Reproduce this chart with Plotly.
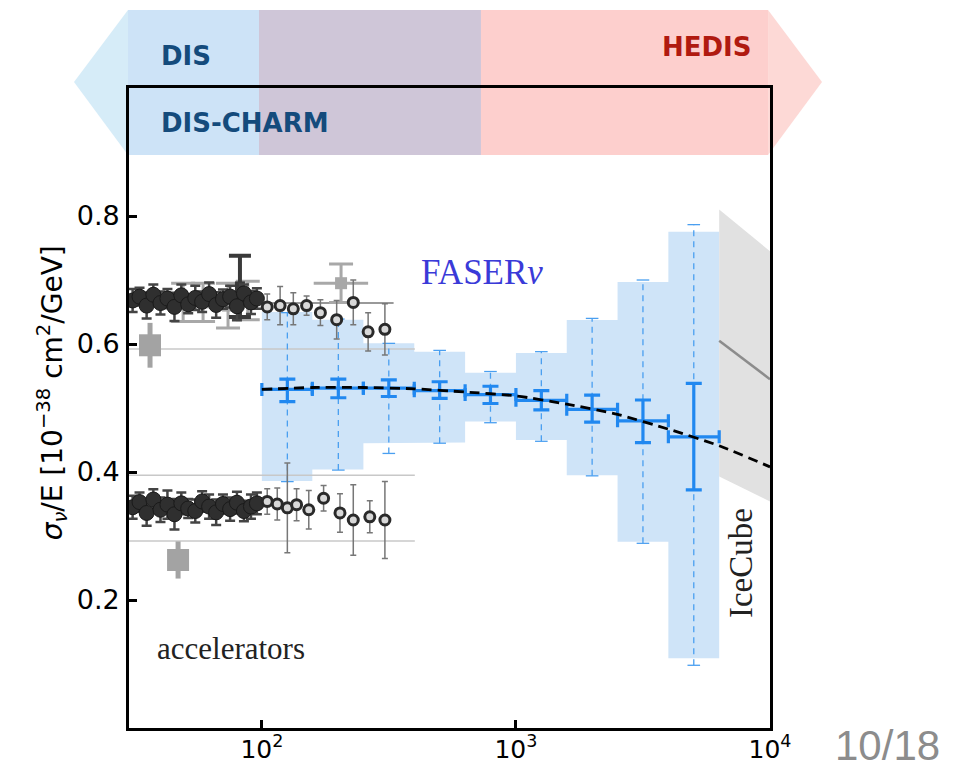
import math
import plotly.graph_objects as go

# ---------------- data ----------------
# FASERnu projected measurement (bins in E_nu [GeV])
bin_edges = [100, 158, 251, 398, 631, 1000, 1585, 2512, 3981, 6310]
bin_centers = [126, 200, 316, 501, 794, 1259, 1995, 3162, 5012]
faser_central = [0.529, 0.531, 0.531, 0.527, 0.521, 0.512, 0.498, 0.480, 0.455]
stat_hi = [0.545, 0.545, 0.544, 0.541, 0.534, 0.527, 0.520, 0.5125, 0.5385]
stat_lo = [0.510, 0.516, 0.518, 0.515, 0.507, 0.497, 0.478, 0.446, 0.372]
box_hi = [0.650, 0.638, 0.601, 0.588, 0.555, 0.586, 0.6375, 0.697, 0.7755]
box_lo = [0.386, 0.404, 0.445, 0.446, 0.479, 0.450, 0.395, 0.291, 0.109]
dash_hi = [0.649, 0.639, 0.601, 0.590, 0.557, 0.588, 0.640, 0.700, 0.7865]
dash_lo = [0.385, 0.403, 0.429, 0.445, 0.477, 0.448, 0.394, 0.2886, 0.098]

# theory prediction (dashed black)
theory_E = [100, 158, 251, 398, 631, 1000, 1585, 2512, 3981, 6310, 10000]
theory_val = [0.529, 0.532, 0.532, 0.530, 0.525, 0.519, 0.506, 0.490, 0.467, 0.441, 0.408]

# IceCube band
ice_E = [6310, 10000]
ice_top = [0.810, 0.745]
ice_bot = [0.393, 0.354]
ice_line = [0.605, 0.545]

# accelerator data: neutrinos (upper) and antineutrinos (lower)
acc_dense_E = [31.0, 33.0, 35.2, 37.4, 39.9, 42.5, 45.3, 48.2, 51.3, 54.7,
               58.2, 62.0, 66.1, 70.3, 75.0, 79.8, 85.0, 90.6, 95.6]
acc_nu_val = [0.668, 0.674, 0.660, 0.677, 0.664, 0.671, 0.658, 0.676, 0.662, 0.672,
              0.666, 0.678, 0.661, 0.670, 0.674, 0.659, 0.679, 0.665, 0.671]
acc_nu_err = [0.018, 0.014, 0.020, 0.016, 0.018, 0.015, 0.022, 0.017, 0.014, 0.019,
              0.016, 0.018, 0.020, 0.015, 0.017, 0.022, 0.014, 0.018, 0.016]
acc_nub_val = [0.345, 0.353, 0.336, 0.357, 0.341, 0.349, 0.334, 0.351, 0.343, 0.339,
               0.354, 0.346, 0.337, 0.350, 0.342, 0.352, 0.339, 0.346, 0.351]
acc_nub_err = [0.018, 0.015, 0.020, 0.016, 0.019, 0.022, 0.024, 0.017, 0.015, 0.018,
               0.016, 0.019, 0.020, 0.015, 0.018, 0.017, 0.016, 0.019, 0.017]

acc_nu_hi_E = [105, 118, 133, 150, 170, 197, 229, 262, 305]
acc_nu_hi_val = [0.658, 0.660, 0.655, 0.660, 0.649, 0.638, 0.665, 0.619, 0.623]
acc_nu_hi_err = [0.020, 0.030, 0.025, 0.015, 0.020, 0.030, 0.035, 0.030, 0.040]

acc_nub_hi_E = [105, 115, 126, 137, 153, 175, 203, 229, 266, 305]
acc_nub_hi_val = [0.354, 0.350, 0.344, 0.349, 0.341, 0.359, 0.336, 0.325, 0.330, 0.325]
acc_nub_hi_err = [0.020, 0.025, 0.070, 0.025, 0.030, 0.020, 0.030, 0.055, 0.025, 0.060]

acc_old_E = [49.0, 58.7, 73.6, 88.0, 205]
acc_old_val = [0.665, 0.665, 0.660, 0.668, 0.695]
acc_old_err = [0.030, 0.030, 0.035, 0.030, 0.030]
acc_old_xlo = [0, 0, 0, 0, 45]
acc_old_xhi = [0, 0, 0, 0, 57]

acc_box_E = [36.3, 46.8]
acc_box_val = [0.598, 0.2625]
acc_box_err = [0.035, 0.029]

acc_T_E = [82.0]
acc_T_val = [0.690]
acc_T_err = [0.048]

ref_lines_val = [0.592, 0.395, 0.292]
ref_lines_E = [30, 400]
fit_line_E = [100, 330]
fit_line_val = [0.664, 0.664]

# ---------------- figure ----------------
fig = go.Figure()

# FASERnu uncertainty boxes
bx, by = [], []
for i in range(len(bin_centers)):
    bx += [bin_edges[i], bin_edges[i + 1]]
    by += [box_hi[i], box_hi[i]]
for i in reversed(range(len(bin_centers))):
    bx += [bin_edges[i + 1], bin_edges[i]]
    by += [box_lo[i], box_lo[i]]
fig.add_trace(go.Scatter(x=bx, y=by, fill="toself", fillcolor="#cfe4f8",
                         line=dict(width=0), mode="lines", hoverinfo="skip"))

# IceCube band
fig.add_trace(go.Scatter(x=ice_E + ice_E[::-1], y=ice_top + ice_bot[::-1],
                         fill="toself", fillcolor="#e1e1e1", line=dict(width=0),
                         mode="lines", hoverinfo="skip"))
fig.add_trace(go.Scatter(x=ice_E, y=ice_line, mode="lines",
                         line=dict(color="#8c8c8c", width=2.5)))

# reference horizontal lines (accelerators)
for v in ref_lines_val:
    fig.add_trace(go.Scatter(x=ref_lines_E, y=[v, v], mode="lines",
                             line=dict(color="#c8c8c8", width=1.5)))
fig.add_trace(go.Scatter(x=fit_line_E, y=fit_line_val, mode="lines",
                         line=dict(color="#777777", width=1.5)))

# dashed (total) error bars
dx, dy = [], []
for c, lo, hi in zip(bin_centers, dash_lo, dash_hi):
    dx += [c, c, None]
    dy += [lo, hi, None]
fig.add_trace(go.Scatter(x=dx, y=dy, mode="lines",
                         line=dict(color="#4a9ff0", width=1.3, dash="6px,5px")))
fig.add_trace(go.Scatter(x=bin_centers + bin_centers, y=dash_hi + dash_lo, mode="markers",
                         marker=dict(symbol="line-ew", size=9,
                                     line=dict(color="#4a9ff0", width=1.3))))

# accelerator data
fig.add_trace(go.Scatter(x=acc_box_E, y=acc_box_val, mode="markers",
                         marker=dict(symbol="square", size=22, color="#a3a3a3"),
                         error_y=dict(type="data", array=acc_box_err, color="#a3a3a3",
                                      thickness=5, width=0)))
fig.add_trace(go.Scatter(x=acc_old_E, y=acc_old_val, mode="markers",
                         marker=dict(symbol="square", size=12, color="#a8a8a8"),
                         error_y=dict(type="data", array=acc_old_err, color="#a8a8a8",
                                      thickness=3, width=12),
                         error_x=dict(type="data", symmetric=False, array=acc_old_xhi,
                                      arrayminus=acc_old_xlo, color="#a8a8a8",
                                      thickness=3, width=0)))
fig.add_trace(go.Scatter(x=acc_T_E, y=acc_T_val, mode="markers",
                         marker=dict(symbol="square", size=10, color="#3a3a3a"),
                         error_y=dict(type="data", array=acc_T_err, color="#3a3a3a",
                                      thickness=4, width=11)))
for vals, errs in [(acc_nu_val, acc_nu_err), (acc_nub_val, acc_nub_err)]:
    fig.add_trace(go.Scatter(x=acc_dense_E, y=vals, mode="markers",
                             marker=dict(symbol="circle", size=15, color="#2f2f2f",
                                         line=dict(color="#1a1a1a", width=1)),
                             error_y=dict(type="data", array=errs, color="#444444",
                                          thickness=2.5, width=5)))
for E, vals, errs in [(acc_nu_hi_E, acc_nu_hi_val, acc_nu_hi_err),
                      (acc_nub_hi_E, acc_nub_hi_val, acc_nub_hi_err)]:
    fig.add_trace(go.Scatter(x=E, y=vals, mode="markers",
                             marker=dict(symbol="circle", size=10, color="#d8d8d8",
                                         line=dict(color="#2a2a2a", width=3)),
                             error_y=dict(type="data", array=errs, color="#777777",
                                          thickness=1.5, width=3)))

# FASERnu statistical error bars
xlo = [c - lo for c, lo in zip(bin_centers, bin_edges[:-1])]
xhi = [hi - c for c, hi in zip(bin_centers, bin_edges[1:])]
ylo = [c - lo for c, lo in zip(faser_central, stat_lo)]
yhi = [hi - c for c, hi in zip(faser_central, stat_hi)]
fig.add_trace(go.Scatter(x=bin_centers, y=faser_central, mode="markers",
                         marker=dict(size=3, color="#2188f0"),
                         error_x=dict(type="data", symmetric=False, array=xhi, arrayminus=xlo,
                                      color="#2188f0", thickness=3.2, width=6.5),
                         error_y=dict(type="data", symmetric=False, array=yhi, arrayminus=ylo,
                                      color="#2188f0", thickness=3.2, width=8)))

# theory line
fig.add_trace(go.Scatter(x=theory_E, y=theory_val, mode="lines",
                         line=dict(color="black", width=2.8, dash="10px,6px",
                                   shape="spline", smoothing=0.6)))

# ---------------- banner ----------------
yt, yb, ym = 1.1219, 0.8953, 1.0094
shapes = [
    dict(type="path", path=f"M -0.0858,{ym} L -0.0016,{yt} L -0.0016,{yb} Z",
         fillcolor="#d6ecf8", line=dict(width=0)),
    dict(type="rect", x0=-0.0016, x1=0.2028, y0=yb, y1=yt, fillcolor="#cde3f7", line=dict(width=0)),
    dict(type="rect", x0=0.2028, x1=0.5491, y0=yb, y1=yt, fillcolor="#cfc6d8", line=dict(width=0)),
    dict(type="rect", x0=0.5491, x1=0.997, y0=yb, y1=yt, fillcolor="#fdcfcd", line=dict(width=0)),
    dict(type="path", path=f"M 0.997,{yt} L 1.0811,{ym} L 0.997,{yb} Z",
         fillcolor="#fdd9d6", line=dict(width=0)),
]
for s in shapes:
    s.update(xref="paper", yref="paper", layer="below")

annotations = [
    dict(text="<b>DIS</b>", x=0.0889, y=1.0503, font=dict(family="DejaVu Sans", size=26, color="#144b7c")),
    dict(text="<b>DIS-CHARM</b>", x=0.181, y=0.9453, font=dict(family="DejaVu Sans", size=26, color="#144b7c")),
    dict(text="<b>HEDIS</b>", x=0.9017, y=1.064, font=dict(family="DejaVu Sans", size=26, color="#b01a10")),
    dict(text="FASER<i>ν</i>", x=0.5507, y=0.712, font=dict(family="Liberation Serif", size=35, color="#3a3ad8")),
    dict(text="accelerators", x=0.159, y=0.124, font=dict(family="Liberation Serif", size=31, color="#222222")),
    dict(text="IceCube", x=0.9548, y=0.2578, textangle=-90, font=dict(family="Liberation Serif", size=33, color="#222222")),
    dict(text="<i>σ</i><sub><i>ν</i></sub>/E [10<sup>−38</sup> cm<sup>2</sup>/GeV]", x=-0.120, y=0.523,
         textangle=-90, font=dict(family="DejaVu Sans", size=28, color="black")),
    dict(text="10/18", x=1.184, y=-0.0266, font=dict(family="Liberation Sans", size=42, color="#8c8c8c")),
]
for a in annotations:
    a.update(xref="paper", yref="paper", showarrow=False, xanchor="center", yanchor="middle")

fig.update_layout(
    width=958, height=768,
    margin=dict(l=129, r=188, t=88, b=40, autoexpand=False),
    paper_bgcolor="white", plot_bgcolor="rgba(0,0,0,0)",
    showlegend=False,
    shapes=shapes, annotations=annotations,
    xaxis=dict(type="log", range=[math.log10(30), 4], automargin=False,
               tickvals=[100, 1000, 10000],
               ticktext=["10<sup>2</sup>", "10<sup>3</sup>", "10<sup>4</sup>"],
               ticks="inside", ticklen=8, tickwidth=2.5, tickcolor="black",
               showline=True, linecolor="black", linewidth=2.8, mirror=True,
               showgrid=False, zeroline=False, ticklabelstandoff=-3,
               tickfont=dict(family="DejaVu Sans", size=25, color="black")),
    yaxis=dict(range=[0, 1], automargin=False, tickvals=[0.2, 0.4, 0.6, 0.8],
               ticktext=["0.2", "0.4", "0.6", "0.8"],
               ticks="inside", ticklen=8, tickwidth=2.5, tickcolor="black",
               showline=True, linecolor="black", linewidth=2.8, mirror=True,
               showgrid=False, zeroline=False, ticklabelstandoff=1,
               tickfont=dict(family="DejaVu Sans", size=27, color="black")),
)

fig.write_html("out.html")
